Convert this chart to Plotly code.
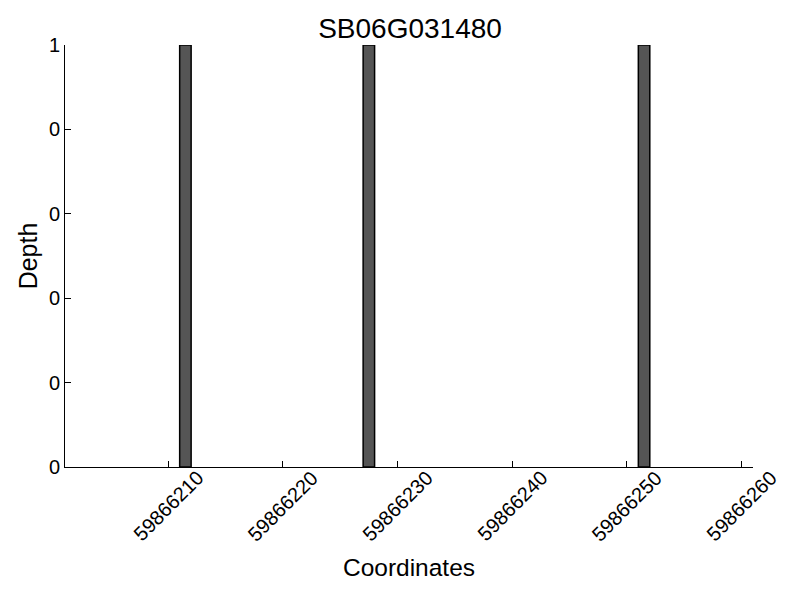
import plotly.graph_objects as go

# données
positions = [59866211, 59866227, 59866251]
depth = [1, 1, 1]
x_ticks = [59866210, 59866220, 59866230, 59866240, 59866250, 59866260]
y_ticks = [0, 0.2, 0.4, 0.6, 0.8, 1]
y_labels = ["0", "0", "0", "0", "0", "1"]

FONT = "Liberation Sans, Arial, sans-serif"

fig = go.Figure(
    go.Bar(
        x=positions,
        y=depth,
        width=1,
        offset=0,
        marker=dict(color="#555555", line=dict(color="black", width=1.5)),
        showlegend=False,
    )
)

# étiquettes x tournées à 45°, centrées sous chaque graduation
for v in x_ticks:
    fig.add_annotation(
        x=v, y=-0.092, xref="x", yref="paper",
        text=str(v), textangle=-45, showarrow=False,
        xanchor="center", yanchor="middle",
        font=dict(size=20),
    )

# la page ajoute une marge de 8 px : figure de 792x592
fig.update_layout(
    width=792,
    height=592,
    paper_bgcolor="white",
    plot_bgcolor="white",
    margin=dict(l=57, r=47, t=37, b=133),
    font=dict(family=FONT, color="black", size=20),
    title=dict(text="SB06G031480", x=0.5076, xanchor="center", y=0.966, yanchor="middle",
               font=dict(size=28)),
)
fig.update_xaxes(
    range=[59866201, 59866261],
    tickvals=x_ticks,
    showticklabels=False,
    ticks="inside",
    ticklen=6,
    tickcolor="black",
    showline=True,
    linecolor="black",
    linewidth=1,
    showgrid=False,
    zeroline=False,
    automargin=False,
    title=dict(text="Coordinates", font=dict(size=24.5), standoff=91),
)
fig.update_yaxes(
    range=[0, 1],
    tickvals=y_ticks,
    ticktext=y_labels,
    tickfont=dict(size=20),
    ticks="inside",
    ticklen=6,
    tickcolor="black",
    showline=True,
    linecolor="black",
    linewidth=1,
    showgrid=False,
    zeroline=False,
    automargin=False,
    title=dict(text="Depth", font=dict(size=25), standoff=4),
)

fig.write_html("out.html")
